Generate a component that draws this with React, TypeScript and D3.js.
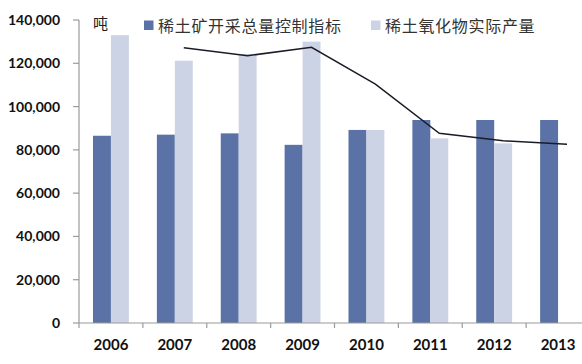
import React from 'react';
import * as d3 from 'd3';

const years = ['2006', '2007', '2008', '2009', '2010', '2011', '2012', '2013'];
const quota = [86520, 87020, 87620, 82320, 89200, 93800, 93800, 93800];
const output = [133000, 121200, 124300, 130000, 89200, 85300, 83000, null];
// trend line (two-period moving average as drawn in the source)
const trend = [null, 127200, 123500, 127400, 110400, 87650, 84200, 82550];
const yTicks = [0, 20000, 40000, 60000, 80000, 100000, 120000, 140000];
const seriesNames = ['稀土矿开采总量控制指标', '稀土氧化物实际产量'];
const colors = ['#5b72a6', '#ccd3e5'];

const W = 582;
const H = 364;
const left = 79;
const top = 20;
const bottom = 323;
const right = 590;

const App = () => {
  const x0 = d3.scaleBand<string>().domain(years).range([left, right]).padding(0);
  const x1 = d3
    .scaleBand<string>()
    .domain(['q', 'o'])
    .range([0, x0.bandwidth()])
    .paddingInner(0)
    .paddingOuter(0.78);
  const y = d3.scaleLinear().domain([0, 140000]).range([bottom, top]);

  const linePts = years
    .map((yr, i) => ({ yr, v: trend[i] }))
    .filter(d => d.v != null);
  const line = d3
    .line<{ yr: string; v: number | null }>()
    .x(d => (x0(d.yr) as number) + (x1('o') as number) + x1.bandwidth() / 2)
    .y(d => y(d.v as number));

  const fmt = d3.format(',');
  const axisColor = '#9a9a9a';

  return (
    <svg
      width={W}
      height={H}
      style={{ position: 'absolute', left: 0, top: 0, background: '#fff' }}
    >
      {/* bars */}
      {years.map((yr, i) => (
        <g key={yr} transform={`translate(${x0(yr)},0)`}>
          <rect
            x={x1('q')}
            y={y(quota[i])}
            width={x1.bandwidth()}
            height={bottom - y(quota[i])}
            fill={colors[0]}
          />
          {output[i] != null && (
            <rect
              x={x1('o')}
              y={y(output[i] as number)}
              width={x1.bandwidth()}
              height={bottom - y(output[i] as number)}
              fill={colors[1]}
            />
          )}
        </g>
      ))}

      {/* trend line */}
      <path d={line(linePts) || ''} fill="none" stroke="#1c1c28" strokeWidth={1.5} />

      {/* y axis */}
      <line x1={left} x2={left} y1={top} y2={bottom} stroke={axisColor} strokeWidth={1.2} />
      {yTicks.map(t => (
        <g key={t}>
          <line x1={left - 6} x2={left} y1={y(t)} y2={y(t)} stroke={axisColor} strokeWidth={1.2} />
          <text
            x={60}
            y={y(t)}
            dy="0.36em"
            textAnchor="end"
            fontFamily="Lato, sans-serif"
            fontWeight="bold"
            fontSize={14}
            fill="#111"
          >
            {fmt(t)}
          </text>
        </g>
      ))}

      {/* x axis */}
      <line x1={left} x2={right} y1={bottom} y2={bottom} stroke={axisColor} strokeWidth={1.2} />
      {years.map(yr => (
        <g key={yr}>
          <line
            x1={x0(yr)}
            x2={x0(yr)}
            y1={bottom}
            y2={bottom + 5}
            stroke={axisColor}
            strokeWidth={1.2}
          />
          <text
            x={(x0(yr) as number) + x0.bandwidth() / 2}
            y={350}
            textAnchor="middle"
            fontFamily="Lato, sans-serif"
            fontWeight="bold"
            fontSize={15}
            fill="#111"
          >
            {yr}
          </text>
        </g>
      ))}

      {/* unit */}
      <text x={93} y={29} fontFamily="'Noto Sans CJK SC', sans-serif" fontSize={15} fill="#222">
        吨
      </text>

      {/* legend */}
      {seriesNames.map((name, i) => {
        const lx = i === 0 ? 144 : 371;
        return (
          <g key={name}>
            <rect x={lx} y={20.5} width={9.5} height={9.5} fill={colors[i]} />
            <text
              x={lx + 14}
              y={31.5}
              fontFamily="'Noto Sans CJK SC', sans-serif"
              fontSize={16}
              letterSpacing={0.7}
              fill="#333"
            >
              {name}
            </text>
          </g>
        );
      })}
    </svg>
  );
};

export default App;
